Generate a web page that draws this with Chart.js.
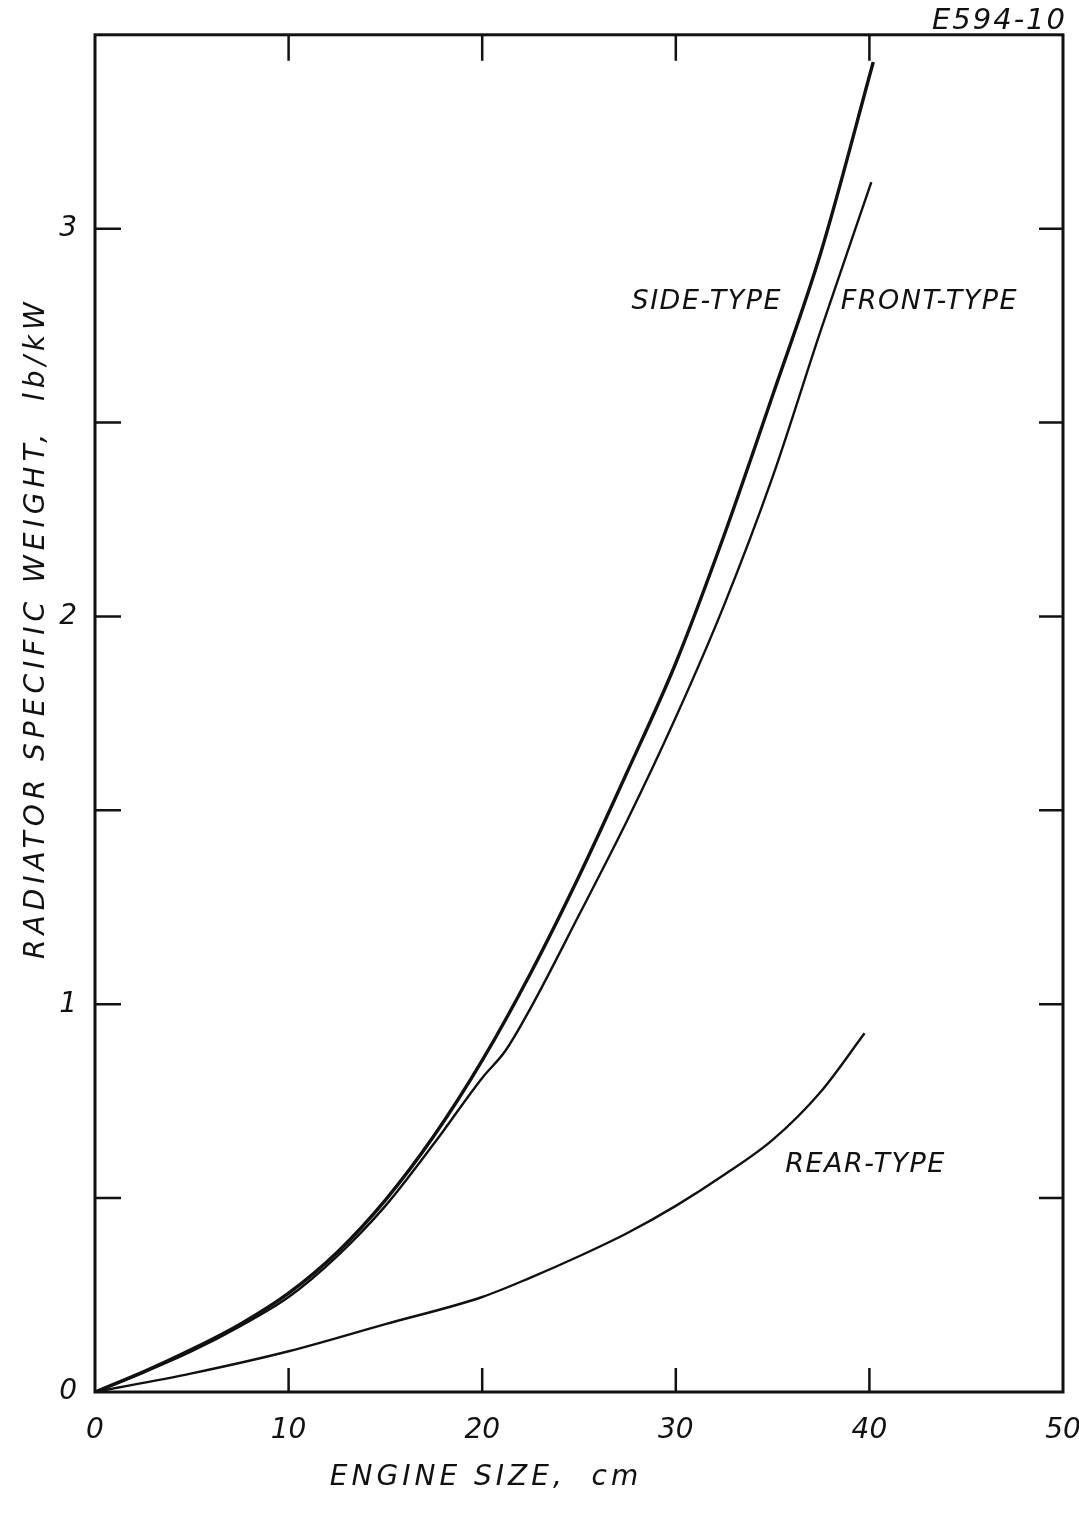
<!DOCTYPE html>
<html>
<head>
<meta charset="utf-8">
<script src="https://cdn.jsdelivr.net/npm/chart.js@4.4.1/dist/chart.umd.min.js"></script>
<style>
  html, body { margin: 0; padding: 0; background: #fff; }
</style>
</head>
<body>
<canvas id="myChart" width="1079" height="1513"></canvas>
<script>
'use strict';

// engine size, cm  ->  radiator specific weight, lb/kW
const sideX  = [0, 2.5, 5, 7.5, 10, 12.5, 15, 17.5, 20, 22.5, 25, 27.5, 30, 32.5, 35, 37.5, 40.2];
const sideY  = [0, 0.052, 0.11, 0.175, 0.255, 0.36, 0.495, 0.66, 0.855, 1.08, 1.33, 1.60, 1.88, 2.21, 2.57, 2.94, 3.43];

const frontX = [0, 2.5, 5, 7.5, 10, 12.5, 15, 17.5, 20, 21.2, 22.5, 25, 27.5, 30, 32.5, 35, 37.5, 40.1];
const frontY = [0, 0.05, 0.105, 0.17, 0.245, 0.35, 0.48, 0.64, 0.81, 0.88, 0.99, 1.23, 1.475, 1.74, 2.03, 2.36, 2.74, 3.12];

const rearX  = [0, 5, 10, 15, 20, 22.5, 25, 27.5, 30, 32.5, 35, 37.5, 39.75];
const rearY  = [0, 0.048, 0.105, 0.175, 0.245, 0.295, 0.35, 0.41, 0.48, 0.56, 0.65, 0.775, 0.925];

const xTickLabels = ['0', '10', '20', '30', '40', '50'];
const yTickLabels = ['0', '1', '2', '3'];

const FONT = '"DejaVu Sans", sans-serif';
const INK = '#111';

// text written on the drawing, placed in data units
const notes = [
    { text: 'SIDE-TYPE', x: 31.6, y: 2.81 },
    { text: 'FRONT-TYPE', x: 43.1, y: 2.81 },
    { text: 'REAR-TYPE', x: 39.8, y: 0.585 },
];

function points(xs, ys) {
    return xs.map((x, i) => ({ x: x, y: ys[i] }));
}

function line(label, xs, ys, width) {
    return {
        label: label,
        data: points(xs, ys),
        borderColor: INK,
        borderWidth: width,
        pointRadius: 0,
        fill: false,
        cubicInterpolationMode: 'monotone',
    };
}

// frame with inward ticks on all four sides
const frame = {
    id: 'frame',
    afterDraw(chart) {
        const { ctx, chartArea: a, scales } = chart;
        ctx.save();
        ctx.strokeStyle = INK;
        ctx.lineWidth = 2.5;
        scales.x.ticks.forEach(t => {
            const px = scales.x.getPixelForValue(t.value);
            if (t.value <= scales.x.min || t.value >= scales.x.max) return;
            ctx.beginPath();
            ctx.moveTo(px, a.bottom); ctx.lineTo(px, a.bottom - 24);
            ctx.moveTo(px, a.top); ctx.lineTo(px, a.top + 26);
            ctx.stroke();
        });
        scales.y.ticks.forEach(t => {
            const py = scales.y.getPixelForValue(t.value);
            if (t.value <= scales.y.min || t.value >= scales.y.max) return;
            ctx.beginPath();
            ctx.moveTo(a.left, py); ctx.lineTo(a.left + 26, py);
            ctx.moveTo(a.right, py); ctx.lineTo(a.right - 24, py);
            ctx.stroke();
        });
        ctx.lineWidth = 3;
        ctx.strokeRect(a.left, a.top, a.right - a.left, a.bottom - a.top);
        ctx.restore();
    }
};

// lettering: curve names, drawing number, axis titles
const lettering = {
    id: 'lettering',
    afterDraw(chart) {
        const { ctx, chartArea: a, scales } = chart;
        ctx.save();
        ctx.fillStyle = INK;
        ctx.textAlign = 'center';
        ctx.textBaseline = 'middle';
        ctx.font = 'italic 27px ' + FONT;
        ctx.letterSpacing = '1.5px';
        notes.forEach(n => {
            ctx.fillText(n.text, scales.x.getPixelForValue(n.x), scales.y.getPixelForValue(n.y));
        });

        ctx.textAlign = 'right';
        ctx.font = 'italic 29px ' + FONT;
        ctx.letterSpacing = '2px';
        ctx.fillText('E594-10', a.right + 4, a.top - 13);

        ctx.textAlign = 'center';
        ctx.font = 'italic 28px ' + FONT;
        ctx.letterSpacing = '4px';
        ctx.fillText('ENGINE SIZE,  cm', scales.x.getPixelForValue(20.2), a.bottom + 86);

        ctx.translate(37, scales.y.getPixelForValue(1.97));
        ctx.rotate(-Math.PI / 2);
        ctx.letterSpacing = '5px';
        ctx.fillText('RADIATOR SPECIFIC WEIGHT,  lb/kW', 0, 0);
        ctx.restore();
    }
};

const ctx = document.getElementById('myChart').getContext('2d');
const myChart = new Chart(ctx, {
    type: 'line',
    data: {
        datasets: [
            line('Side-type', sideX, sideY, 3.4),
            line('Front-type', frontX, frontY, 2.4),
            line('Rear-type', rearX, rearY, 2.4),
        ]
    },
    options: {
        responsive: false,
        animation: false,
        devicePixelRatio: 1,
        layout: { padding: { top: 34, right: 16, left: 0, bottom: 0 } },
        plugins: {
            legend: { display: false },
            tooltip: { enabled: false },
        },
        scales: {
            x: {
                type: 'linear',
                min: 0,
                max: 50,
                grid: { display: false, drawTicks: false },
                border: { display: false },
                ticks: {
                    stepSize: 10,
                    padding: 22,
                    color: INK,
                    font: { family: FONT, size: 28, style: 'italic' },
                    callback: (v) => xTickLabels[v / 10] ?? '',
                },
                afterFit: (scale) => {
                    scale.height = 121;
                    scale.paddingLeft = 0;
                    scale.paddingRight = 0;
                },
            },
            y: {
                type: 'linear',
                min: 0,
                max: 3.5,
                grid: { display: false, drawTicks: false },
                border: { display: false },
                ticks: {
                    stepSize: 0.5,
                    padding: 18,
                    color: INK,
                    font: { family: FONT, size: 28, style: 'italic' },
                    callback: (v) => Number.isInteger(v) ? (yTickLabels[v] ?? '') : '',
                },
                afterFit: (scale) => { scale.width = 95; },
            }
        }
    },
    plugins: [frame, lettering]
});
</script>
</body>
</html>
